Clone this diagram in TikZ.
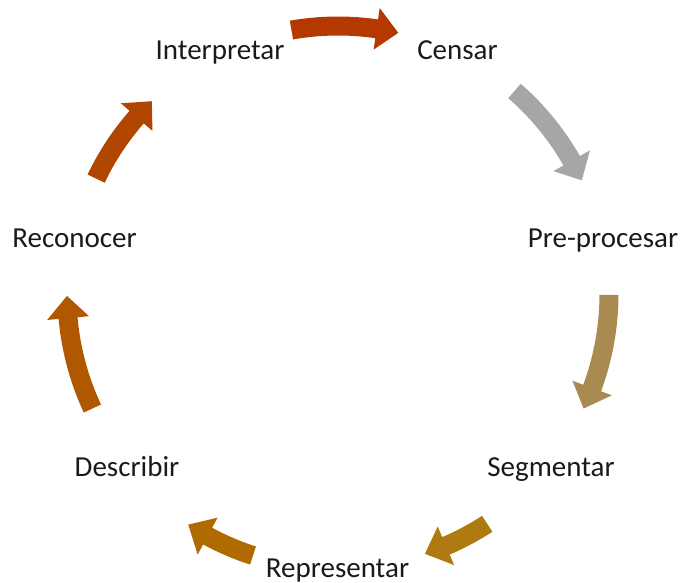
\documentclass[tikz,border=0pt]{standalone}
\usepackage{fontspec}
\setmainfont{Carlito}
\definecolor{cA}{HTML}{B33900}
\definecolor{cB}{HTML}{A6A6A6}
\definecolor{cC}{HTML}{A98A50}
\definecolor{cD}{HTML}{AF7B10}
\definecolor{cE}{HTML}{AF6A00}
\definecolor{cF}{HTML}{AF5800}
\definecolor{cG}{HTML}{B04600}
\definecolor{txt}{HTML}{1A1A1A}
\newcommand{\cyclarrow}[4]{% #1 tail angle, #2 tip angle, #3 radius, #4 colour
  \pgfmathsetmacro{\hb}{#2+4.7}%
  \pgfmathsetmacro{\ro}{#3+9.5}%
  \pgfmathsetmacro{\ri}{#3-9.5}%
  \pgfmathsetmacro{\rhd}{#3+21}%
  \pgfmathsetmacro{\rhin}{#3-21}%
  \fill[#4] (#1:\ro pt) arc[start angle=#1, end angle=\hb, radius=\ro pt]
    -- (\hb:\rhd pt) -- (#2:#3pt) -- (\hb:\rhin pt) -- (\hb:\ri pt)
    arc[start angle=\hb, end angle=#1, radius=\ri pt] -- cycle;}
\tikzset{lbl/.style={anchor=base, inner sep=0pt, text=txt, font=\fontsize{29}{34}\selectfont}}
\begin{document}
\begin{tikzpicture}[x=1pt,y=1pt]
\useasboundingbox (-338,-288) rectangle (344,294);
\coordinate (c) at (0,0);
% labels
\node[lbl] (censar) at (119.5,235) {Censar};
\node[lbl] (pre) at (265,47) {Pre-procesar};
\node[lbl] (seg) at (213,-182) {Segmentar};
\node[lbl] (rep) at (-0.5,-283) {Representar};
\node[lbl] (desc) at (-211,-182) {Describir};
\node[lbl] (recon) at (-263.5,47) {Reconocer};
\node[lbl] (interp) at (-118,235) {Interpretar};
% arrows (clockwise)
\cyclarrow{100}{77}{268}{cA}
\cyclarrow{49}{25}{269}{cB}
\cyclarrow{-0.2}{-25}{271}{cC}
\cyclarrow{-57}{-71.5}{274}{cD}
\cyclarrow{-108}{-123}{275}{cE}
\cyclarrow{205}{180.4}{271}{cF}
\cyclarrow{154.5}{134}{268}{cG}
\end{tikzpicture}
\end{document}
